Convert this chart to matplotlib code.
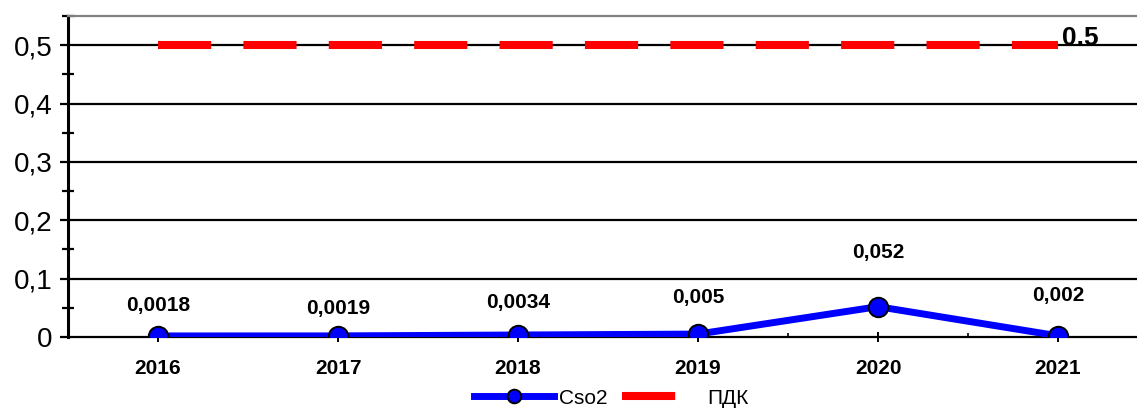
import matplotlib
matplotlib.use("Agg")
import matplotlib.pyplot as plt
from matplotlib.ticker import FixedLocator, FuncFormatter

plt.rcParams['font.family'] = ['Liberation Sans', 'DejaVu Sans']

years = ["2016", "2017", "2018", "2019", "2020", "2021"]
cso2 = [0.0018, 0.0019, 0.0034, 0.005, 0.052, 0.002]
cso2_labels = ["0,0018", "0,0019", "0,0034", "0,005", "0,052", "0,002"]
pdk = [0.5, 0.5, 0.5, 0.5, 0.5, 0.5]
pdk_label = "0.5"
label_offsets_px = [30, 27, 33, 37, 54, 40]

W, H = 1137, 412
fig = plt.figure(figsize=(W / 100, H / 100), dpi=100)
ax = fig.add_axes([68 / W, 1 - 337 / H, (1148 - 68) / W, (337 - 16) / H])

x = list(range(len(years)))
ax.set_xlim(-0.5, len(years) - 0.5)
ax.set_ylim(0, 0.55)

# grid
for v in [0.1, 0.2, 0.3, 0.4, 0.5]:
    ax.axhline(v, color='black', lw=1.6, zorder=1)

# PDK dashed
pdk_line, = ax.plot(x, pdk, color='#ff0000', lw=5.8, dashes=(6.6, 4.0),
                    solid_capstyle='butt', dash_capstyle='butt', zorder=3, label='ПДК')
ax.annotate(pdk_label, (x[-1], pdk[-1]), xytext=(3, 5.5), textcoords='offset points',
            ha='left', va='center', fontsize=19, fontweight='bold', zorder=5)

# Cso2 line
cso_line, = ax.plot(x, cso2, color='#0000ff', lw=5, marker='o', markersize=14,
                    markerfacecolor='#0000ff', markeredgecolor='black', markeredgewidth=1.4,
                    zorder=4, label='Cso2')
for xi, yi, lab, off in zip(x, cso2, cso2_labels, label_offsets_px):
    ax.annotate(lab, (xi, yi), xytext=(0, off * 0.72), textcoords='offset points',
                ha='center', va='center', fontsize=15, fontweight='bold', zorder=5)

# spines
ax.spines['left'].set_linewidth(2.2)
ax.spines['left'].set_color('black')
ax.spines['bottom'].set_linewidth(1.6)
ax.spines['bottom'].set_color('black')
ax.spines['top'].set_color('#808080')
ax.spines['top'].set_linewidth(1.6)
ax.spines['right'].set_visible(False)

# y ticks
ax.yaxis.set_major_locator(FixedLocator([0, 0.1, 0.2, 0.3, 0.4, 0.5]))
ax.yaxis.set_minor_locator(FixedLocator([0.05, 0.15, 0.25, 0.35, 0.45, 0.55]))
ax.yaxis.set_major_formatter(FuncFormatter(lambda v, p: ('%g' % round(v, 2)).replace('.', ',')))
ax.tick_params(axis='y', which='major', direction='out', length=6, width=1.6,
               labelsize=20, pad=5)
ax.tick_params(axis='y', which='minor', direction='inout', length=8, width=1.6)

# x ticks
ax.set_xticks(x)
ax.set_xticklabels(years, fontsize=15, fontweight='bold')
ax.xaxis.set_minor_locator(FixedLocator([i + 0.5 for i in x[:-1]]))
ax.tick_params(axis='x', which='major', direction='inout', length=7, width=1.4, pad=12)
ax.tick_params(axis='x', which='minor', direction='in', length=3, width=1.2)

fig.legend(handles=[cso_line, pdk_line], loc='center',
           bbox_to_anchor=(611 / W, 1 - 398 / H), ncol=2, frameon=False,
           fontsize=15, handlelength=3.85, handletextpad=0.24, columnspacing=0.67,
           borderpad=0, borderaxespad=0, markerscale=0.7)

fig.savefig("out.png", dpi=100)
